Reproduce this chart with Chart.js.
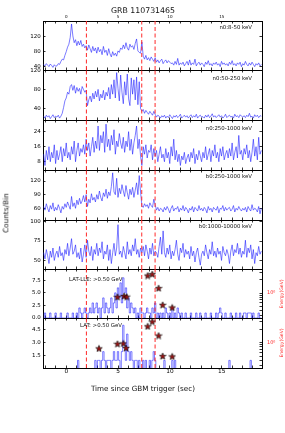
<!DOCTYPE html>
<html>
<head>
<meta charset="utf-8">
<script src="https://cdn.jsdelivr.net/npm/chart.js@4.4.1/dist/chart.umd.min.js"></script>
<style>
  body { margin: 0; width: 285px; height: 433px; background: #fff; position: relative; overflow: hidden; font-family: 'DejaVu Sans', sans-serif; }
  canvas { position: absolute; left: 0; top: 0; }
  .t { position: absolute; white-space: nowrap; line-height: 1; color: #111; transform: translate(-50%, -50%); z-index: 5; }
  .r { transform: translate(-100%, -50%); }
  .l { transform: translate(0, -50%); }
  .v { transform: translate(-50%, -50%) rotate(-90deg); }
  .red { color: #ff2a2a; }
</style>
</head>
<body>
<div class="t" style="left:143px;top:11px;font-size:7.8px">GRB 110731465</div>
<div class="t r" style="left:252px;top:27.5px;font-size:5.4px">n0:8-50 keV</div>
<div class="t r" style="left:252px;top:78.5px;font-size:5.4px">n0:50-250 keV</div>
<div class="t r" style="left:252px;top:128.5px;font-size:5.4px">n0:250-1000 keV</div>
<div class="t r" style="left:252px;top:177px;font-size:5.4px">b0:250-1000 keV</div>
<div class="t r" style="left:252px;top:226.5px;font-size:5.4px">b0:1000-10000 keV</div>
<div class="t l" style="left:69px;top:280px;font-size:5.4px">LAT-LLE: &gt;0.50 GeV</div>
<div class="t l" style="left:80px;top:326px;font-size:5.4px">LAT: &gt;0.50 GeV</div>
<div class="t v red" style="left:282px;top:294px;font-size:4.6px">Energy(GeV)</div>
<div class="t v red" style="left:282px;top:343px;font-size:4.6px">Energy(GeV)</div>
<div class="t v" style="left:6px;top:213px;font-size:7.3px">Counts/Bin</div>
<div class="t" style="left:143px;top:389px;font-size:7.2px">Time since GBM trigger (sec)</div>

<script>
// light curves, counts per 0.128 s bin starting at binStart
const binStart = -2.24;
const binWidth = 0.128;
const timeRange = [-2.24, 18.88];
const timeTicks = [-2, -1, 0, 1, 2, 3, 4, 5, 6, 7, 8, 9, 10, 11, 12, 13, 14, 15, 16, 17, 18];
const dashTimes = [1.95, 7.28, 8.57];

const n0Low = [
  46, 42, 48, 44, 40, 47, 43, 38, 45, 41,
  42, 48, 46, 54, 60, 58, 70, 80, 92, 100,
  118, 154, 122, 104, 112, 96, 108, 98, 110, 94,
  100, 90, 96, 84, 98, 88, 78, 94, 82, 90,
  76, 92, 80, 86, 72, 94, 78, 84, 70, 88,
  74, 66, 80, 70, 76, 68, 82, 78, 90, 86,
  98, 88, 104, 90, 84, 100, 92, 96, 86, 102,
  114, 82, 78, 76, 106, 68, 60, 70, 58, 64,
  56, 66, 60, 54, 64, 52, 58, 50, 56, 60,
  48, 54, 58, 50, 56, 52, 48, 50, 44, 54,
  46, 62, 44, 50, 46, 52, 42, 48, 54, 44,
  58, 44, 50, 46, 60, 42, 48, 52, 44, 50,
  46, 40, 52, 46, 56, 44, 48, 42, 50, 46,
  52, 44, 48, 40, 54, 46, 50, 44, 48, 42,
  52, 46, 56, 44, 48, 42, 50, 46, 52, 40,
  48, 44, 54, 46, 42, 50, 44, 52, 46, 40,
  48, 44, 50, 42, 46
];
const n0Mid = [
  24, 20, 26, 22, 25, 19, 23, 27, 21, 24,
  22, 26, 20, 24, 30, 42, 56, 62, 74, 70,
  86, 90, 78, 88, 72, 84, 76, 82, 70, 86,
  80, 74, 78, 46, 58, 66, 54, 72, 60, 76,
  64, 80, 56, 70, 62, 78, 58, 74, 66, 84,
  60, 90, 70, 100, 62, 115, 82, 56, 110, 74,
  50, 96, 68, 112, 60, 46, 104, 70, 100, 58,
  106, 48, 96, 40, 34, 38, 30, 36, 32, 28,
  34, 30, 26, 34, 28, 22, 26, 24, 20, 25,
  22, 26, 20, 24, 21, 27, 23, 19, 25, 22,
  26, 21, 24, 28, 20, 23, 26, 22, 25, 20,
  24, 27, 21, 25, 22, 28, 20, 24, 26, 22,
  23, 20, 26, 22, 27, 21, 24, 29, 22, 25,
  21, 24, 27, 22, 25, 20, 23, 28, 21, 24,
  26, 22, 24, 20, 28, 23, 25, 21, 27, 24,
  22, 25, 21, 26, 23, 30, 22, 24, 20, 27,
  23, 26, 21, 25, 24
];
const n0High = [
  12, 6, 14, 9, 16, 8, 13, 10, 17, 7,
  14, 9, 12, 16, 8, 15, 11, 18, 10, 13,
  9, 16, 12, 19, 8, 14, 18, 11, 15, 13,
  17, 12, 20, 14, 18, 11, 16, 21, 13, 19,
  15, 27, 14, 22, 18, 24, 13, 28, 16, 20,
  14, 22, 17, 25, 12, 19, 16, 23, 18, 15,
  21, 13, 19, 16, 24, 14, 20, 12, 18, 22,
  27, 15, 20, 11, 6, 16, 12, 17, 10, 14,
  13, 17, 9, 15, 11, 14, 8, 12, 16, 10,
  12, 8, 15, 10, 13, 7, 16, 11, 20, 9,
  14, 8, 12, 6, 11, 9, 13, 7, 10, 12,
  8, 13, 10, 15, 7, 12, 9, 14, 11, 8,
  13, 10, 16, 9, 12, 15, 8, 14, 11, 17,
  10, 13, 8, 15, 11, 16, 9, 12, 14, 10,
  15, 11, 18, 9, 13, 16, 10, 22, 12, 14,
  9, 15, 12, 17, 10, 14, 8, 13, 20, 11,
  16, 9, 21, 12, 14
];
const b0Low = [
  64, 56, 70, 60, 52, 66, 58, 72, 54, 62,
  56, 68, 60, 50, 64, 58, 70, 62, 74, 66,
  58, 86, 64, 72, 60, 78, 68, 82, 70, 76,
  88, 74, 90, 64, 80, 72, 92, 78, 84, 74,
  90, 80, 98, 84, 76, 94, 86, 102, 82, 96,
  88, 108, 138, 96, 90, 126, 84, 104, 92, 112,
  98, 86, 110, 94, 80, 102, 90, 106, 84, 100,
  116, 90, 132, 96, 66, 62, 70, 64, 68, 60,
  72, 66, 62, 80, 68, 56, 62, 54, 60, 58,
  52, 62, 56, 64, 58, 50, 60, 66, 54, 60,
  58, 64, 52, 60, 56, 66, 54, 62, 58, 50,
  60, 56, 64, 52, 62, 58, 54, 66, 56, 60,
  54, 62, 58, 50, 64, 56, 60, 52, 62, 58,
  56, 64, 50, 60, 58, 66, 54, 62, 56, 60,
  62, 54, 58, 66, 52, 60, 56, 64, 58, 54,
  60, 56, 62, 52, 64, 58, 54, 68, 56, 60,
  58, 52, 64, 48, 60
];
const b0High = [
  60, 52, 64, 56, 46, 62, 54, 66, 50, 58,
  62, 54, 68, 56, 60, 50, 64, 58, 72, 56,
  66, 78, 58, 62, 70, 54, 60, 52, 66, 48,
  58, 70, 54, 76, 62, 56, 68, 50, 64, 58,
  72, 56, 66, 60, 74, 52, 62, 58, 70, 50,
  64, 46, 60, 72, 56, 66, 96, 58, 62, 54,
  68, 60, 52, 74, 58, 64, 56, 70, 62, 78,
  58, 64, 54, 66, 60, 68, 56, 70, 62, 52,
  66, 58, 72, 56, 62, 60, 54, 68, 80, 58,
  88, 60, 54, 66, 58, 70, 52, 62, 56, 64,
  76, 58, 50, 66, 60, 72, 54, 64, 58, 62,
  52, 68, 56, 62, 48, 60, 66, 54, 44, 58,
  62, 56, 70, 60, 52, 64, 58, 74, 56, 62,
  54, 66, 58, 62, 50, 68, 60, 56, 64, 58,
  46, 62, 70, 56, 64, 60, 72, 58, 66, 54,
  62, 58, 76, 54, 66, 60, 70, 52, 64, 46,
  60, 56, 68, 58, 62
];
const lleCounts = [
  0, 1, 0, 0, 0, 1, 0, 0, 0, 1,
  0, 0, 0, 1, 0, 0, 0, 0, 1, 0,
  0, 0, 1, 0, 0, 1, 0, 2, 1, 0,
  1, 2, 1, 0, 1, 2, 1, 3, 1, 2,
  3, 1, 2, 0, 2, 4, 1, 3, 2, 1,
  2, 4, 1, 3, 5, 2, 6, 4, 7, 3,
  8, 5, 6, 2, 4, 1, 3, 2, 1, 2,
  0, 1, 0, 2, 1, 1, 0, 1, 2, 1,
  1, 0, 2, 1, 3, 0, 1, 0, 1, 0,
  1, 0, 2, 1, 0, 1, 0, 2, 0, 1,
  0, 2, 1, 0, 1, 0, 0, 1, 0, 0,
  0, 1, 0, 0, 0, 1, 0, 0, 1, 0,
  0, 0, 1, 0, 0, 0, 1, 0, 0, 0,
  1, 0, 1, 2, 1, 0, 0, 1, 0, 0,
  0, 1, 0, 0, 0, 1, 0, 0, 1, 0,
  0, 1, 1, 0, 1, 1, 1, 0, 1, 0,
  0, 0, 1, 0, 0
];
const latCounts = [
  0, 0, 0, 0, 0, 0, 0, 0, 0, 0,
  0, 0, 0, 0, 0, 0, 0, 0, 0, 0,
  0, 0, 0, 0, 0, 0, 1, 0, 0, 0,
  0, 0, 0, 0, 0, 0, 0, 0, 0, 1,
  0, 1, 1, 0, 1, 2, 1, 0, 1, 1,
  1, 0, 1, 2, 1, 1, 2, 1, 0, 2,
  5, 3, 1, 4, 2, 1, 2, 1, 0, 1,
  1, 0, 1, 0, 0, 1, 0, 1, 0, 0,
  1, 0, 1, 2, 1, 0, 0, 0, 0, 0,
  0, 1, 0, 0, 0, 0, 0, 1, 0, 1,
  0, 0, 0, 0, 0, 0, 0, 0, 0, 0,
  0, 0, 0, 0, 0, 0, 0, 0, 0, 0,
  0, 0, 0, 0, 0, 0, 0, 0, 0, 0,
  0, 0, 0, 0, 0, 0, 0, 0, 0, 0,
  1, 0, 0, 0, 0, 0, 0, 0, 0, 0,
  0, 0, 0, 0, 0, 0, 1, 0, 0, 0,
  0, 0, 0, 0, 0
];

// LAT photons (time, energy GeV)
const lleStarTimes = [4.94, 5.58, 5.83, 7.85, 8.30, 8.91, 9.30, 10.22];
const lleStarEnergies = [0.82, 0.86, 0.83, 2.52, 2.72, 1.30, 0.54, 0.47];
const latStarTimes = [3.16, 4.94, 5.51, 5.77, 7.85, 8.30, 8.91, 9.30, 10.22];
const latStarEnergies = [0.74, 0.94, 0.96, 0.76, 2.32, 2.96, 1.44, 0.50, 0.49];

// axis ranges and tick values
const n0LowRange = [31, 162], n0LowTicks = [40, 80, 120];
const n0MidRange = [16, 120.5], n0MidTicks = [40, 80, 120];
const n0HighRange = [3.6, 30.2], n0HighTicks = [8, 16, 24];
const b0LowRange = [34.3, 144.2], b0LowTicks = [60, 90, 120];
const b0HighRange = [39, 102], b0HighTicks = [50, 75, 100];
const lleRange = [0, 9.75], lleTicks = [0, 2.5, 5, 7.5];
const latRange = [0.13, 5.83], latTicks = [1.5, 3, 4.5];
const energyRange = [0.27, 3.55];
const energyTicks = [0.3, 0.4, 0.5, 0.6, 0.7, 0.8, 0.9, 1, 2, 3];

const panels = [
  { values: n0Low, range: n0LowRange, ticks: n0LowTicks },
  { values: n0Mid, range: n0MidRange, ticks: n0MidTicks },
  { values: n0High, range: n0HighRange, ticks: n0HighTicks },
  { values: b0Low, range: b0LowRange, ticks: b0LowTicks },
  { values: b0High, range: b0HighRange, ticks: b0HighTicks },
  { values: lleCounts, range: lleRange, ticks: lleTicks, dec: 1, steps: true, starT: lleStarTimes, starE: lleStarEnergies },
  { values: latCounts, range: latRange, ticks: latTicks, dec: 1, steps: true, starT: latStarTimes, starE: latStarEnergies }
];
const panelEdges = [21, 70, 120, 170, 220, 269, 318, 368];
const axisBand = 10; // room for x tick labels above/below each panel

Chart.defaults.font.family = "'DejaVu Sans', sans-serif";
Chart.defaults.color = '#000';

// filled star marker like matplotlib '*'
function starMarker(size) {
  const c = document.createElement('canvas');
  c.width = c.height = size;
  const g = c.getContext('2d');
  const r = size / 2 - 0.5, cx = size / 2, cy = size / 2 + 0.4;
  g.beginPath();
  for (let k = 0; k < 10; k++) {
    const a = -Math.PI / 2 + k * Math.PI / 5;
    const rr = k % 2 ? r * 0.42 : r;
    g.lineTo(cx + rr * Math.cos(a), cy + rr * Math.sin(a));
  }
  g.closePath();
  g.fillStyle = '#9a1010';
  g.fill();
  g.lineWidth = 0.6;
  g.strokeStyle = '#000';
  g.stroke();
  return c;
}
const star = starMarker(8);

const inTicks = { drawOnChartArea: false, drawTicks: true, tickLength: -2.5, color: '#000', lineWidth: 0.8 };
const frame = { display: true, color: '#000', width: 1 };
const setTicks = vals => s => { s.ticks = vals.map(v => ({ value: v })); };

function makePanel(p, i) {
  const canvas = document.createElement('canvas');
  canvas.width = 285;
  canvas.height = 433;
  document.body.appendChild(canvas);

  const isFirst = i === 0, isLast = i === panels.length - 1;
  const datasets = [];

  if (p.starT) {
    datasets.push({
      type: 'scatter',
      data: p.starT.map((t, k) => ({ x: t, y: p.starE[k] })),
      yAxisID: 'yR',
      pointStyle: star,
      pointRadius: 4,
      clip: false,
      order: 0
    });
  }
  dashTimes.forEach(t => datasets.push({
    data: [{ x: t, y: p.range[0] }, { x: t, y: p.range[1] }],
    borderColor: 'rgba(255,40,40,0.9)',
    borderWidth: 1.1,
    borderDash: [4, 2.5],
    pointRadius: 0,
    order: 1
  }));
  datasets.push({
    data: p.values.map((v, k) => ({ x: binStart + (k + 0.5) * binWidth, y: v })),
    borderColor: 'rgba(25,25,255,0.72)',
    borderWidth: 0.8,
    stepped: p.steps ? 'middle' : false,
    pointRadius: 0,
    order: 2
  });

  const yLabel = v => p.dec ? v.toFixed(p.dec) : String(v);

  const rightAxis = p.starT ? {
    type: 'logarithmic', position: 'right', axis: 'y', bounds: 'data',
    min: energyRange[0], max: energyRange[1],
    afterFit: s => { s.width = 23; },
    afterBuildTicks: setTicks(energyTicks),
    grid: inTicks, border: frame,
    ticks: { autoSkip: false, padding: 7.5, color: '#ff2a2a', font: { size: 5 },
             callback: v => v === 1 ? '10\u2070' : '' }
  } : {
    type: 'linear', position: 'right', axis: 'y', bounds: 'data',
    min: p.range[0], max: p.range[1],
    afterFit: s => { s.width = 23; },
    afterBuildTicks: setTicks(p.ticks),
    grid: inTicks, border: frame,
    ticks: { display: false }
  };

  new Chart(canvas, {
    type: 'line',
    data: { datasets },
    options: {
      responsive: false,
      animation: false,
      devicePixelRatio: 1,
      events: [],
      layout: { padding: { left: 0, right: 0,
                           top: panelEdges[i] - axisBand,
                           bottom: 433 - panelEdges[i + 1] - axisBand } },
      plugins: { legend: { display: false }, tooltip: { enabled: false } },
      scales: {
        x: {
          type: 'linear', position: 'bottom', bounds: 'data',
          min: timeRange[0], max: timeRange[1],
          afterFit: s => { s.height = axisBand; },
          afterBuildTicks: setTicks(timeTicks),
          grid: inTicks, border: frame,
          ticks: { display: isLast, autoSkip: false, maxRotation: 0, padding: 2.4, font: { size: 5.8 },
                   callback: v => v % 5 === 0 ? String(v) : '' }
        },
        xTop: {
          type: 'linear', position: 'top', axis: 'x', bounds: 'data',
          min: timeRange[0], max: timeRange[1],
          afterFit: s => { s.height = axisBand; },
          afterBuildTicks: setTicks(timeTicks),
          grid: inTicks, border: frame,
          ticks: { display: isFirst, autoSkip: false, maxRotation: 0, padding: 4.4, font: { size: 4.1 },
                   callback: v => v % 5 === 0 ? String(v) : '' }
        },
        y: {
          type: 'linear', position: 'left', bounds: 'data',
          min: p.range[0], max: p.range[1],
          afterFit: s => { s.width = 43; },
          afterBuildTicks: setTicks(p.ticks),
          grid: inTicks, border: frame,
          ticks: { autoSkip: false, padding: 4.8, font: { size: 5.5 }, callback: yLabel }
        },
        yR: rightAxis
      }
    }
  });
}

panels.forEach(makePanel);
</script>
</body>
</html>
